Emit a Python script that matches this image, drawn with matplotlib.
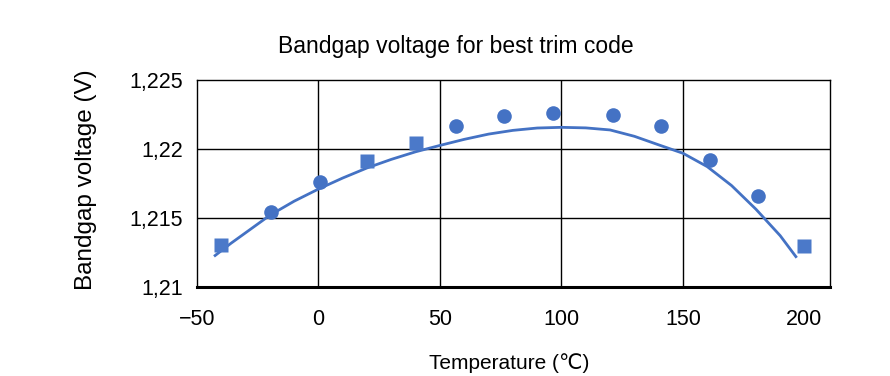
import matplotlib
matplotlib.use("Agg")
import matplotlib.pyplot as plt
from matplotlib.ticker import FuncFormatter

plt.rcParams['font.family'] = ['Liberation Sans', 'DejaVu Sans']

# Measured points (squares and circles)
sq_temp = [-40, 20, 40, 200]
sq_volt = [1.21306, 1.21916, 1.22041, 1.21294]
ci_temp = [-19.5, 0.5, 56.5, 76.5, 96.5, 121, 141, 161, 181]
ci_volt = [1.21546, 1.21760, 1.22169, 1.22238, 1.22264, 1.22244, 1.22166, 1.21918, 1.21660]

# Smooth curve series
curve_temp = [-43, -36, -30, -20, -10, 0, 10, 20, 30, 40, 50, 60, 70, 80, 90,
              100, 110, 120, 130, 140, 150, 160, 170, 180, 190, 196.8]
curve_volt = [1.21222, 1.21317, 1.21393, 1.21520, 1.21622, 1.21710, 1.21790,
              1.21863, 1.21925, 1.21980, 1.22026, 1.22070, 1.22108, 1.22135,
              1.22152, 1.22157, 1.22153, 1.22138, 1.22092, 1.22030, 1.21969,
              1.21872, 1.21735, 1.21564, 1.21372, 1.21212]

x_ticks = [-50, 0, 50, 100, 150, 200]
x_grid = [0, 50, 100, 150]
y_ticks = [1.21, 1.215, 1.22, 1.225]

blue = '#4472C4'
W, H = 890, 376
fig = plt.figure(figsize=(W / 100, H / 100), dpi=100)
ax = fig.add_axes([197 / W, 1 - 287 / H, (830 - 197) / W, (287 - 80) / H])

ax.set_xlim(-50, 210.5)
ax.set_ylim(1.21, 1.225)

for g in x_grid:
    ax.axvline(g, color='black', lw=1.0, zorder=1)
for g in y_ticks[1:-1]:
    ax.axhline(g, color='black', lw=1.0, zorder=1)

ax.plot(curve_temp, curve_volt, color=blue, lw=2.0, zorder=2, solid_capstyle='butt')
ax.plot(ci_temp, ci_volt, 'o', color=blue, ms=10.5, mec='none', zorder=3)
ax.plot(sq_temp, sq_volt, 's', color='#4B79C9', ms=10.5, mec='none', zorder=3)

ax.set_xticks(x_ticks)
ax.set_yticks(y_ticks)
ax.yaxis.set_major_formatter(FuncFormatter(lambda v, p: ('%g' % v).replace('.', ',')))
ax.xaxis.set_major_formatter(FuncFormatter(lambda v, p: ('%d' % v).replace('-', '\u2212')))
ax.tick_params(axis='both', length=0, labelsize=15.5, colors='black')
ax.tick_params(axis='y', pad=10)
ax.tick_params(axis='x', pad=16)

for s in ['left', 'top', 'right']:
    ax.spines[s].set_linewidth(1.0)
    ax.spines[s].set_color('black')
ax.spines['bottom'].set_linewidth(2.2)
ax.spines['bottom'].set_color('black')

fig.text(456 / W, 1 - 46 / H, 'Bandgap voltage for best trim code', ha='center', va='center', fontsize=16.5)
fig.text(509 / W, 1 - 363 / H, 'Temperature (\u2103)', ha='center', va='center', fontsize=15)
fig.text(86 / W, 1 - 180 / H, 'Bandgap voltage (V)', ha='center', va='center', rotation=90, fontsize=17.5)

fig.savefig('out.png', dpi=100, facecolor='white')
